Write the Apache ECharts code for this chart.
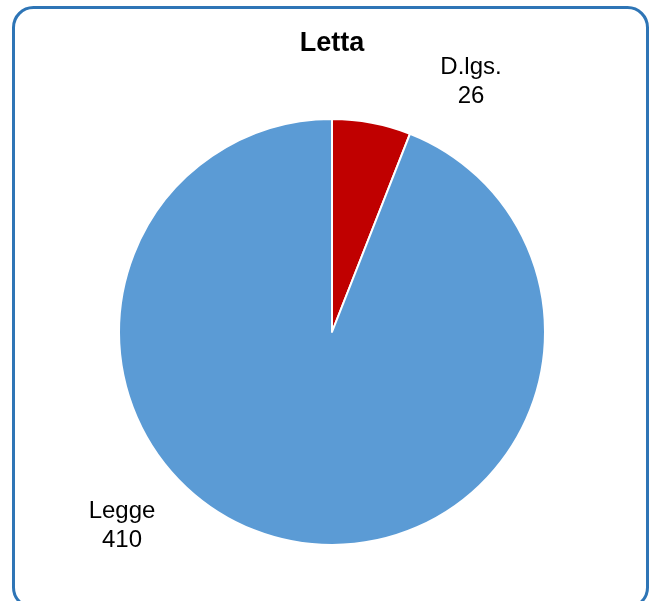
<!DOCTYPE html>
<html>
<head>
<meta charset="utf-8">
<script src="https://cdn.jsdelivr.net/npm/echarts@6/dist/echarts.min.js"></script>
<style>
html,body{margin:0;padding:0;background:#fff;}
#main{width:651px;height:601px;}
</style>
</head>
<body>
<div id="main"></div>
<script>
const titleText = 'Letta';
const categories = ['D.lgs.', 'Legge'];
const values = [26, 410];
const colors = ['#C00000', '#5B9BD5'];
const labelPos = [[471, 82], [122, 526]];

const chart = echarts.init(document.getElementById('main'), null, {renderer: 'canvas'});
chart.setOption({
  animation: false,
  backgroundColor: '#ffffff',
  graphic: [{
    type: 'rect', z: -1,
    shape: {x: 13.5, y: 7.5, width: 634, height: 600, r: 20},
    style: {fill: 'none', stroke: '#2E75B6', lineWidth: 3}
  }, {
    type: 'text', z: 10,
    x: 332, y: 44,
    style: {
      text: titleText, align: 'center', verticalAlign: 'middle',
      fontFamily: 'Liberation Sans, Arial, sans-serif', fontSize: 27, fontWeight: 'bold', fill: '#000'
    }
  }],
  series: [{
    type: 'pie',
    center: [332, 332],
    radius: [0, 213],
    startAngle: 90,
    clockwise: true,
    label: {
      show: true,
      position: 'outside',
      formatter: '{b}\n{c}',
      fontFamily: 'Liberation Sans, Arial, sans-serif',
      fontSize: 24,
      lineHeight: 29,
      color: '#000',
      align: 'center'
    },
    labelLine: {show: false},
    labelLayout: function (p) {
      const pos = labelPos[p.dataIndex];
      return {x: pos[0], y: pos[1], align: 'center', verticalAlign: 'middle', hideOverlap: false};
    },
    itemStyle: {borderColor: '#ffffff', borderWidth: 2},
    emphasis: {disabled: true},
    data: categories.map((c, i) => ({name: c, value: values[i], itemStyle: {color: colors[i]}}))
  }]
});
</script>
</body>
</html>
